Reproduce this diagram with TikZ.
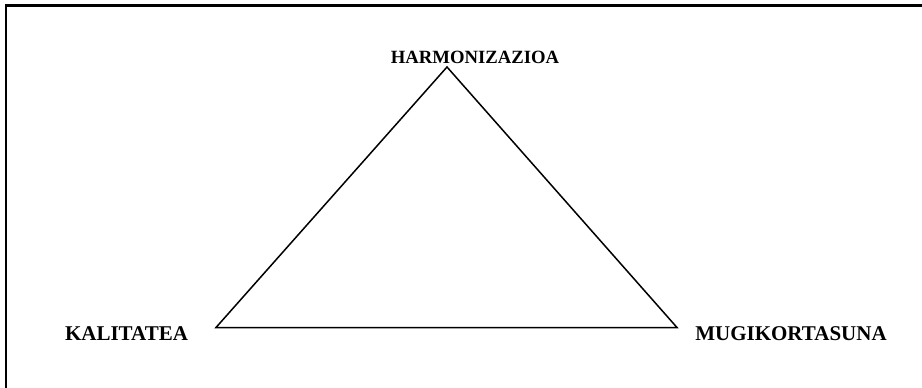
\documentclass[tikz,border=0pt]{standalone}
\usepackage{fontspec}
\setmainfont{Liberation Serif}
\usetikzlibrary{positioning}
\tikzset{
  corner/.style={font=\bfseries\fontsize{21}{23}\selectfont, inner sep=0pt},
  side/.style={line width=1.5pt, line join=miter},
}

\begin{document}
\begin{tikzpicture}[x=1pt, y=-1pt]
    \useasboundingbox (0,0) rectangle (922,388);
    % Frame (only top and left edges in view)
    \draw[line width=2.5pt] (6,388) -- (6,5.5) -- (922,5.5);

    % Triangle corners
    \coordinate (h) at (447,67);
    \coordinate (k) at (216,327.5);
    \coordinate (m) at (677,327.5);
    \draw[side] (k) -- (h) -- (m) -- cycle;

    % Labels
    \node[corner, font=\bfseries\fontsize{18.7}{20}\selectfont] (harm) at (475,57) {HARMONIZAZIOA};
    \node[corner] (kali) at (126.5,334) {KALITATEA};
    \node[corner] (mugi) at (791,334) {MUGIKORTASUNA};
\end{tikzpicture}
\end{document}
